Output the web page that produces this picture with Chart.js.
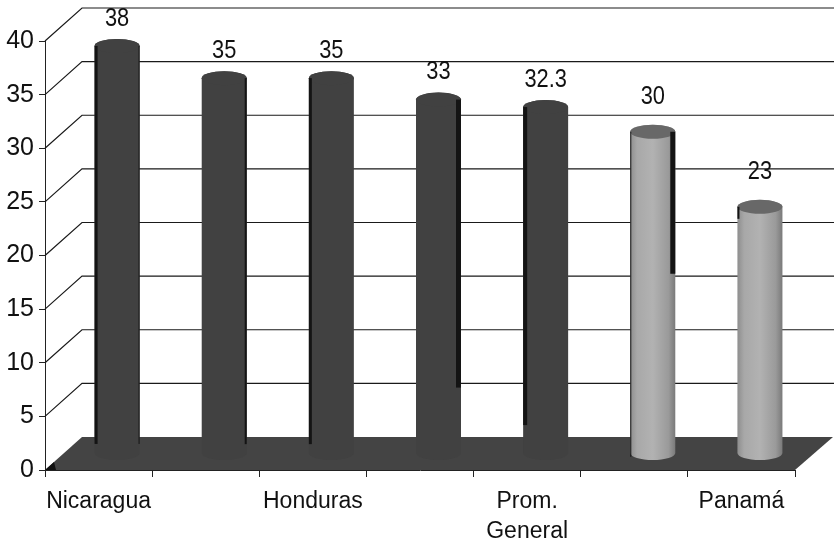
<!DOCTYPE html>
<html>
<head>
<meta charset="utf-8">
<title>Grafico</title>
<script src="https://cdn.jsdelivr.net/npm/chart.js@4/dist/chart.umd.min.js"></script>
<style>
  html, body { margin: 0; padding: 0; background: #fff; }
  canvas { display: block; }
</style>
</head>
<body>
<canvas id="chart" width="834" height="544"></canvas>
<script>
// unlabeled categories keep their slot on the axis
const categories = ["Nicaragua", "", "Honduras", "", ["Prom.", "General"], "", "Panamá"];
const values = [38, 35, 35, 33, 32.3, 30, 23];
const valueLabels = ["38", "35", "35", "33", "32.3", "30", "23"];
const lightBars = [false, false, false, false, false, true, true];
const yTicks = [0, 5, 10, 15, 20, 25, 30, 35, 40];

// depth of the fake 3d box
const DEPTH_X = 37;
const DEPTH_Y = 33;
const FONT = '"Liberation Sans", Arial, sans-serif';

// dark shadow strips down the side of some bars: bar index, side, strip width, length
const shadowStrips = [
  [0, -1, 3, 398],
  [0, 1, 1, 398],
  [1, 1, 2, 366],
  [2, -1, 3, 366],
  [3, 1, 5, 288],
  [4, -1, 4, 318],
  [5, 1, 5, 142],
  [5, -1, 1, 325],
  [6, -1, 2, 12],
];

const box3d = {
  id: "box3d",
  beforeDatasetsDraw(chart) {
    const { ctx, chartArea, scales } = chart;
    const { left, right } = chartArea;
    const zero = scales.y.getPixelForValue(0);

    ctx.save();
    ctx.strokeStyle = "#1a1a1a";
    ctx.lineWidth = 1.2;
    yTicks.forEach((t) => {
      if (t === 0) return;
      const y = scales.y.getPixelForValue(t);
      ctx.beginPath();
      ctx.moveTo(left, y);
      ctx.lineTo(left + DEPTH_X, y - DEPTH_Y);
      ctx.lineTo(834, y - DEPTH_Y);
      ctx.stroke();
    });

    // floor
    ctx.fillStyle = "#444444";
    ctx.beginPath();
    ctx.moveTo(left, zero);
    ctx.lineTo(left + DEPTH_X, zero - DEPTH_Y);
    ctx.lineTo(right + DEPTH_X + 1, zero - DEPTH_Y);
    ctx.lineTo(right, zero);
    ctx.closePath();
    ctx.fill();

    // dark corner where the floor meets the axis
    ctx.fillStyle = "#111";
    ctx.beginPath();
    ctx.moveTo(left, zero);
    ctx.lineTo(left + 9, zero - 8);
    ctx.lineTo(left + 11, zero);
    ctx.closePath();
    ctx.fill();
    ctx.restore();
  },
};

function drawCylinder(ctx, bar, light) {
  const cx = bar.x + DEPTH_X / 2;
  const top = bar.y - DEPTH_Y / 2;
  const bottom = bar.base - DEPTH_Y / 2;
  const rx = bar.width / 2;
  const ry = 7;

  let body = "#414141";
  if (light) {
    body = ctx.createLinearGradient(cx - rx, 0, cx + rx, 0);
    body.addColorStop(0, "#8e8e8e");
    body.addColorStop(0.15, "#a8a8a8");
    body.addColorStop(0.5, "#b2b2b2");
    body.addColorStop(0.85, "#9a9a9a");
    body.addColorStop(1, "#7a7a7a");
  }

  ctx.save();
  ctx.fillStyle = body;
  ctx.beginPath();
  ctx.moveTo(cx - rx, top);
  ctx.lineTo(cx - rx, bottom);
  ctx.ellipse(cx, bottom, rx, ry, 0, Math.PI, 0, true);
  ctx.lineTo(cx + rx, top);
  ctx.ellipse(cx, top, rx, ry, 0, 0, Math.PI, true);
  ctx.closePath();
  ctx.fill();

  ctx.fillStyle = light ? "#686868" : "#414141";
  ctx.beginPath();
  ctx.ellipse(cx, top, rx, ry, 0, 0, Math.PI * 2);
  ctx.fill();
  ctx.restore();
}

const cylinders = {
  id: "cylinders",
  beforeDatasetDraw(chart, args) {
    const { ctx } = chart;
    const meta = chart.getDatasetMeta(args.index);
    meta.data.forEach((bar, i) => drawCylinder(ctx, bar, lightBars[i]));

    ctx.save();
    ctx.fillStyle = "#141414";
    shadowStrips.forEach(([i, side, w, len]) => {
      const bar = meta.data[i];
      const cx = bar.x + DEPTH_X / 2;
      const edge = side < 0 ? cx - bar.width / 2 : cx + bar.width / 2 - w;
      ctx.fillRect(edge, bar.y - DEPTH_Y / 2, w, len);
    });

    // value labels, squeezed a little sideways
    ctx.fillStyle = "#111";
    ctx.font = "26px " + FONT;
    ctx.textAlign = "center";
    ctx.textBaseline = "middle";
    meta.data.forEach((bar, i) => {
      const up = lightBars[i] ? 51 : 44;
      ctx.save();
      ctx.translate(bar.x + DEPTH_X / 2, bar.y - up);
      ctx.scale(0.84, 1);
      ctx.fillText(valueLabels[i], 0, 0);
      ctx.restore();
    });
    ctx.restore();
    return false;
  },
};

new Chart(document.getElementById("chart"), {
  type: "bar",
  data: {
    labels: categories,
    datasets: [{ data: values, backgroundColor: "#414141", barThickness: 45 }],
  },
  plugins: [box3d, cylinders],
  options: {
    responsive: false,
    animation: false,
    layout: { padding: { top: 41, right: 39, left: 0, bottom: 0 } },
    plugins: { legend: { display: false }, tooltip: { enabled: false } },
    scales: {
      x: {
        afterFit: (scale) => { scale.height = 74; },
        border: { color: "#222", width: 1 },
        grid: { drawOnChartArea: false, color: "#222", tickLength: 7 },
        ticks: {
          autoSkip: false,
          maxRotation: 0,
          padding: 9,
          color: "#111",
          font: { family: FONT, size: 23, lineHeight: 1.32 },
        },
      },
      y: {
        min: 0,
        max: 40,
        afterFit: (scale) => { scale.width = 45; },
        border: { color: "#222", width: 1 },
        grid: { drawOnChartArea: false, color: "#222", tickLength: 6 },
        ticks: {
          stepSize: 5,
          padding: 5,
          color: "#111",
          font: { family: FONT, size: 25 },
        },
      },
    },
  },
});
</script>
</body>
</html>
